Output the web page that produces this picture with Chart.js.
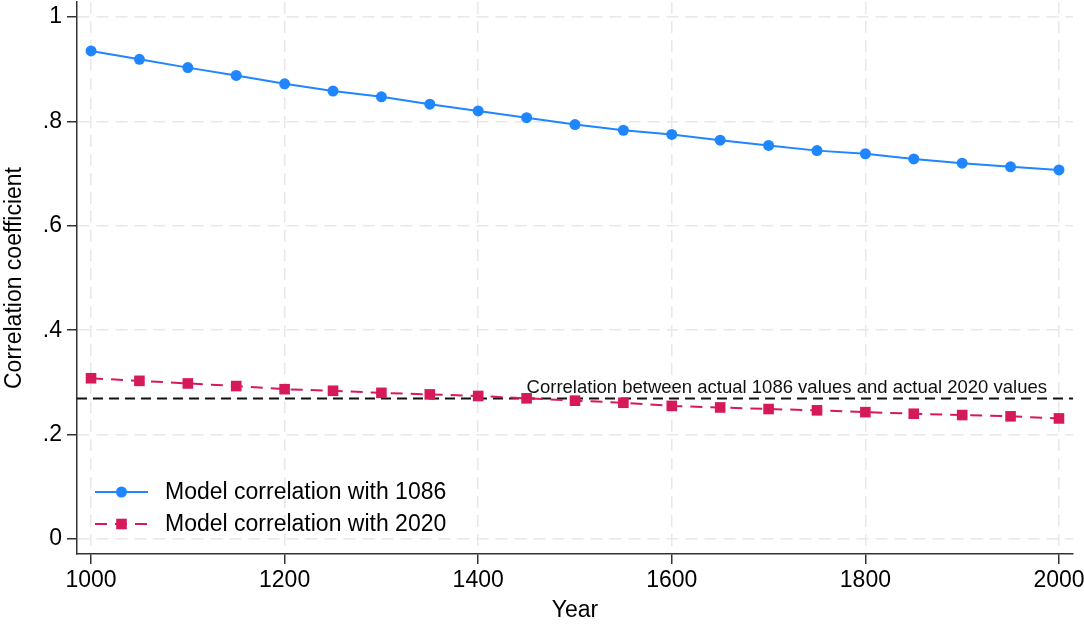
<!DOCTYPE html>
<html>
<head>
<meta charset="utf-8">
<script src="https://cdn.jsdelivr.net/npm/chart.js@4/dist/chart.umd.min.js"></script>
<style>
  html, body { margin: 0; padding: 0; background: #ffffff; }
  #wrap { width: 1084px; height: 624px; position: relative; }
</style>
</head>
<body>
<div id="wrap"><canvas id="chart"></canvas></div>
<script>
// Years at which the model correlations were computed
const years = [1000, 1050, 1100, 1150, 1200, 1250, 1300, 1350, 1400, 1450, 1500,
               1550, 1600, 1650, 1700, 1750, 1800, 1850, 1900, 1950, 2000];

// Model correlation with the 1086 values
const corrWith1086 = [0.935, 0.919, 0.903, 0.888, 0.872, 0.858, 0.847, 0.833, 0.820, 0.807, 0.794,
                      0.783, 0.775, 0.764, 0.754, 0.744, 0.738, 0.728, 0.720, 0.713, 0.707];

// Model correlation with the 2020 values
const corrWith2020 = [0.308, 0.303, 0.298, 0.293, 0.287, 0.284, 0.280, 0.277, 0.274, 0.2695, 0.265,
                      0.261, 0.255, 0.252, 0.249, 0.2465, 0.243, 0.240, 0.2375, 0.235, 0.231];

// Correlation between the actual 1086 and actual 2020 values
const actualCorrelation = 0.269;

const seriesNames = ['Model correlation with 1086', 'Model correlation with 2020'];
const referenceLabel = 'Correlation between actual 1086 values and actual 2020 values';

const xTickValues = [1000, 1200, 1400, 1600, 1800, 2000];
const xTickLabels = ['1000', '1200', '1400', '1600', '1800', '2000'];
const yTickValues = [0, 0.2, 0.4, 0.6, 0.8, 1];
const yTickLabels = ['0', '.2', '.4', '.6', '.8', '1'];

const FONT = "'Liberation Sans', Arial, Helvetica, sans-serif";
const BLUE = '#1f86ff';
const RED = '#d6195b';
const AXIS = '#333333';
const GRID = '#e8e8e8';

const toPoints = vals => vals.map((v, i) => ({ x: years[i], y: v }));

// Horizontal dashed reference line with its caption
const referenceLine = {
  id: 'referenceLine',
  beforeDatasetsDraw(chart) {
    const { ctx, chartArea, scales } = chart;
    const y = scales.y.getPixelForValue(actualCorrelation);
    ctx.save();
    ctx.strokeStyle = '#111111';
    ctx.lineWidth = 2;
    ctx.setLineDash([10, 6]);
    ctx.beginPath();
    ctx.moveTo(chartArea.left, y);
    ctx.lineTo(chartArea.right, y);
    ctx.stroke();
    ctx.setLineDash([]);
    ctx.fillStyle = '#111111';
    ctx.font = '18.5px ' + FONT;
    ctx.textAlign = 'right';
    ctx.textBaseline = 'alphabetic';
    ctx.fillText(referenceLabel, chartArea.right - 26, y - 6);
    ctx.restore();
  }
};

// Legend drawn inside the plot area, lower left
const insideLegend = {
  id: 'insideLegend',
  afterDraw(chart) {
    const { ctx, chartArea } = chart;
    chart.data.datasets.forEach((ds, i) => {
      const y = chartArea.bottom - 62 + i * 32;
      const x0 = chartArea.left + 18;
      const x1 = chartArea.left + 71;
      const xm = (x0 + x1) / 2;
      ctx.save();
      ctx.strokeStyle = ds.borderColor;
      ctx.lineWidth = ds.borderWidth;
      ctx.setLineDash(ds.borderDash || []);
      ctx.beginPath();
      ctx.moveTo(x0, y);
      ctx.lineTo(x1, y);
      ctx.stroke();
      ctx.setLineDash([]);
      ctx.fillStyle = ds.pointBackgroundColor;
      if (ds.pointStyle === 'rect') {
        const h = ds.pointRadius * Math.SQRT1_2;
        ctx.fillRect(xm - h, y - h, 2 * h, 2 * h);
      } else {
        ctx.beginPath();
        ctx.arc(xm, y, ds.pointRadius, 0, Math.PI * 2);
        ctx.fill();
      }
      ctx.fillStyle = '#000000';
      ctx.font = '23px ' + FONT;
      ctx.textAlign = 'left';
      ctx.textBaseline = 'middle';
      ctx.fillText(seriesNames[i], chartArea.left + 88, y + 1);
      ctx.restore();
    });
  }
};

new Chart(document.getElementById('chart'), {
  type: 'line',
  data: {
    datasets: [
      {
        label: seriesNames[0],
        data: toPoints(corrWith1086),
        borderColor: BLUE,
        backgroundColor: BLUE,
        borderWidth: 2,
        pointStyle: 'circle',
        pointRadius: 5.5,
        pointBackgroundColor: BLUE,
        pointBorderWidth: 0,
        tension: 0
      },
      {
        label: seriesNames[1],
        data: toPoints(corrWith2020),
        borderColor: RED,
        backgroundColor: RED,
        borderWidth: 2,
        borderDash: [12, 8],
        pointStyle: 'rect',
        pointRadius: 7.5,
        pointBackgroundColor: RED,
        pointBorderWidth: 0,
        tension: 0
      }
    ]
  },
  options: {
    responsive: true,
    maintainAspectRatio: false,
    animation: false,
    layout: { autoPadding: false, padding: { top: 2, right: 11, left: 0, bottom: 0 } },
    plugins: {
      legend: { display: false },
      tooltip: { enabled: false }
    },
    scales: {
      x: {
        type: 'linear',
        min: 985.5,
        max: 2014.5,
        afterBuildTicks: s => { s.ticks = xTickValues.map(v => ({ value: v })); },
        afterFit: s => { s.height = 70; s.paddingLeft = 0; s.paddingRight = 0; },
        ticks: {
          callback: v => xTickLabels[xTickValues.indexOf(v)],
          font: { size: 23, family: FONT },
          color: '#000000',
          padding: 3,
          maxRotation: 0,
          autoSkip: false
        },
        grid: {
          color: GRID,
          lineWidth: 1.5,
          tickColor: AXIS,
          tickWidth: 1.5,
          tickLength: 10,
          tickBorderDash: []
        },
        border: { display: true, color: AXIS, width: 1.5, dash: [12, 7] },
        title: {
          display: true,
          text: 'Year',
          font: { size: 23, family: FONT },
          color: '#000000',
          padding: 0
        }
      },
      y: {
        type: 'linear',
        min: -0.0287,
        max: 1.0287,
        afterBuildTicks: s => { s.ticks = yTickValues.map(v => ({ value: v })); },
        afterFit: s => { s.width = 77; s.paddingTop = 0; s.paddingBottom = 0; },
        ticks: {
          callback: v => yTickLabels[yTickValues.indexOf(v)],
          font: { size: 23, family: FONT },
          color: '#000000',
          padding: 5,
          autoSkip: false
        },
        grid: {
          color: GRID,
          lineWidth: 1.5,
          tickColor: AXIS,
          tickWidth: 1.5,
          tickLength: 10,
          tickBorderDash: []
        },
        border: { display: true, color: AXIS, width: 1.5, dash: [12, 7] },
        title: {
          display: true,
          text: 'Correlation coefficient',
          font: { size: 23, family: FONT },
          color: '#000000',
          padding: 1
        }
      }
    }
  },
  plugins: [referenceLine, insideLegend]
});
</script>
</body>
</html>
